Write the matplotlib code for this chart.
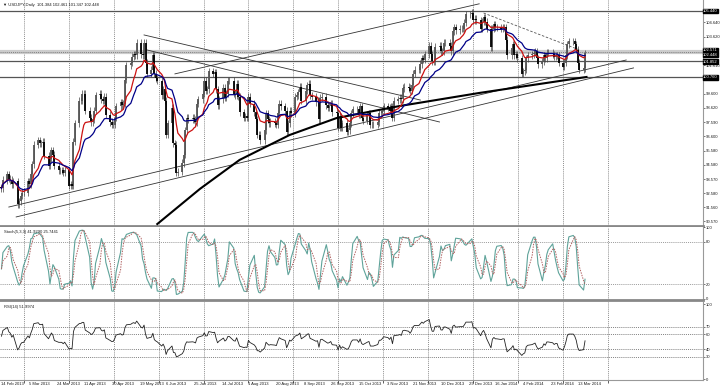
import matplotlib.pyplot as plt
import numpy as np
import pandas as pd

# daily closes, one row per week (Mon..Fri), first row is Thu/Fri 14-15 Feb 2013
closes = [
    92.9, 93.5,
    93.9, 93.6, 93.5, 93.2, 93.4,
    91.8, 92.0, 92.4, 92.6, 92.6,
    93.4, 93.2, 93.9, 94.6, 96.0,
    96.3, 96.1, 96.1, 96.2, 95.2,
    94.5, 95.0, 95.6, 95.3, 94.5,
    94.2, 94.2, 94.2, 94.0, 94.2,
    93.1, 93.2, 93.1, 96.2, 97.5,
    99.1, 99.1, 99.6, 99.6, 98.4,
    97.9, 97.6, 97.8, 98.4, 99.5,
    99.6, 99.2, 99.1, 99.4, 98.1,
    97.6, 97.4, 97.4, 97.9, 98.7,
    99.0, 98.8, 98.9, 100.6, 101.6,
    101.8, 102.2, 102.4, 102.3, 103.2,
    102.4, 102.3, 103.2, 101.8, 101.0,
    101.3, 102.3, 101.0, 100.7, 100.5,
    99.5, 99.9, 99.1, 96.7, 97.5,
    98.6, 96.1, 96.0, 94.0, 94.1,
    94.7, 95.3, 97.0, 97.9, 97.8,
    97.9, 97.8, 97.6, 98.9, 99.2,
    99.6, 100.5, 99.8, 99.9, 101.2,
    101.0, 101.1, 99.9, 98.8, 99.2,
    100.0, 99.3, 99.6, 100.5, 100.5,
    99.6, 99.5, 100.3, 99.4, 98.3,
    97.9, 98.0, 97.9, 99.4, 98.9,
    98.3, 97.8, 96.7, 96.7, 96.3,
    97.0, 98.2, 97.8, 97.5, 97.6,
    97.5, 97.4, 98.2, 98.9, 98.7,
    98.4, 96.9, 97.5, 98.4, 98.2,
    99.4, 99.5, 99.7, 100.1, 99.1,
    99.8, 100.2, 100.3, 99.5, 99.4,
    99.0, 99.1, 97.8, 99.3, 99.4,
    98.8, 98.6, 98.7, 98.9, 98.3,
    98.2, 97.2, 98.0, 97.2, 97.5,
    96.9, 97.0, 97.5, 98.2, 98.5,
    98.5, 98.1, 98.7, 97.9, 97.7,
    98.1, 98.2, 97.4, 97.4, 97.4,
    97.6, 98.2, 98.2, 98.4, 98.7,
    98.6, 98.4, 98.7, 97.9, 99.1,
    99.2, 99.3, 99.2, 100.0, 100.1,
    100.0, 99.8, 100.2, 101.0, 101.3,
    101.3, 101.7, 102.1, 102.0, 102.4,
    103.0, 102.4, 101.9, 101.9, 102.9,
    103.0, 102.6, 102.6, 103.2, 103.2,
    103.0, 102.6, 104.0, 104.3, 104.1,
    104.2, 104.2, 104.2, 104.6, 105.2,
    105.2, 105.3, 104.8, 104.9, 104.8,
    104.2, 104.7, 105.0, 104.7, 104.2,
    102.9, 104.2, 104.5, 104.3, 104.3,
    104.2, 104.3, 104.3, 103.4, 102.3,
    102.8, 103.1, 102.3, 102.4, 102.1,
    101.0, 101.2, 101.3, 102.1, 102.3,
    102.4, 102.5, 102.6, 102.1, 101.7,
    101.9, 102.3, 102.1, 102.5, 102.5,
    102.4, 102.2, 102.3, 102.3, 101.8,
    101.5, 101.8, 102.3, 103.1, 103.3,
    103.3, 103.1, 102.7, 101.8, 101.3,
    101.384, 102.448,
]
first_open = 93.0
rsi_seed_up, rsi_seed_dn = 0.13, 0.09

# 200-day average
ma200_dates = ['2013-05-31', '2013-06-29', '2013-07-26', '2013-08-29', '2013-09-30',
               '2013-11-12', '2014-01-05', '2014-03-19']
ma200_vals = [90.39, 92.87, 94.92, 96.68, 97.88, 98.73, 99.65, 100.78]

# hand drawn lines: (date, price) -> (date, price)
trend_lines = [
    (('2013-06-12', 101.0), ('2014-01-05', 105.95)),
    (('2013-02-19', 91.59), ('2014-04-15', 101.98)),
    (('2013-02-24', 90.89), ('2014-04-20', 101.42)),
    (('2013-05-22', 103.75), ('2013-11-26', 99.15)),
    (('2013-05-24', 102.69), ('2013-12-09', 97.6)),
]
dashed_lines = [
    (('2014-01-08', 105.3), ('2014-03-14', 102.7)),
]
hlines = [105.44, 101.90, 100.76]
grey_level = 102.58

price_ticks = [90.570, 91.560, 92.580, 93.570, 94.580, 95.580, 96.600, 97.590,
               98.620, 99.600, 101.610, 103.620, 104.640]
price_boxes = [105.440, 102.571, 102.448, 101.852, 100.760]

date_labels = ['14 Feb 2013', '5 Mar 2013', '24 Mar 2013', '11 Apr 2013', '30 Apr 2013',
               '19 May 2013', '6 Jun 2013', '25 Jun 2013', '14 Jul 2013', '1 Aug 2013',
               '20 Aug 2013', '8 Sep 2013', '26 Sep 2013', '15 Oct 2013', '3 Nov 2013',
               '21 Nov 2013', '10 Dec 2013', '29 Dec 2013', '16 Jan 2014', '4 Feb 2014',
               '23 Feb 2014', '13 Mar 2014']

title = 'USDJPY,Daily  101.384 102.461 101.347 102.448'
stoch_title = 'Stoch(5,3,3) 41.9290 25.7441'
rsi_title = 'RSI(14) 51.9974'

plt.rcParams['font.family'] = ['Liberation Sans', 'DejaVu Sans']

start = pd.Timestamp('2013-02-14')
dates = pd.bdate_range('2013-02-14', '2014-03-18')


def day(d):
    return (pd.Timestamp(d) - start).days


x = np.array([(d - start).days for d in dates])
c = np.array(closes)
o = np.r_[first_open, c[:-1]]
hi = np.maximum(o, c) + 0.25
lo = np.minimum(o, c) - 0.25

s = pd.Series(c)
red = s.ewm(span=10).mean()
blue = s.ewm(span=21).mean()

# stochastic 5,3,3
hh = pd.Series(hi).rolling(5, min_periods=1).max()
ll = pd.Series(lo).rolling(5, min_periods=1).min()
num = (s - ll).rolling(3, min_periods=1).sum()
den = (hh - ll).rolling(3, min_periods=1).sum()
k = 100 * num / den
d_line = k.rolling(3, min_periods=1).mean()

# rsi 14, wilder smoothing
rsi = []
au, ad = rsi_seed_up, rsi_seed_dn
for ch in c - o:
    au = (au * 13 + max(ch, 0)) / 14
    ad = (ad * 13 + max(-ch, 0)) / 14
    rsi.append(100 - 100 / (1 + au / ad))

W, H = 720, 388
fig = plt.figure(figsize=(7.2, 3.88), dpi=100)
R = 703 / W
ax = fig.add_axes([0, 1 - 226 / H, R, 226 / H])
ax2 = fig.add_axes([0, 1 - 300 / H, R, 73 / H])
ax3 = fig.add_axes([0, 1 - 380 / H, R, 78 / H])

px_day = 1.473
xmax = 703 / px_day
grid_days = np.arange(22.5, 640, 45) / px_day
fs = 3.0
tc = '#1a1a1a'

for a in (ax, ax2, ax3):
    a.set_xlim(-1, xmax)
    a.set_xticks([])
    a.yaxis.tick_right()
    a.tick_params(axis='y', length=1.5, width=0.5, pad=0.8, labelsize=fs,
                  colors='#444444', labelcolor=tc)
    for sp in a.spines.values():
        sp.set_color('#999999')
        sp.set_linewidth(0.8)
    a.spines['left'].set_visible(False)
    a.spines['top'].set_visible(False)
    for g in grid_days:
        a.axvline(g, color='#666666', lw=0.5, ls=(0, (1.5, 1.5)), zorder=0)

# main panel
ax.set_ylim(90.25, 106.22)
ax.set_yticks(price_ticks, ['%.3f' % v for v in price_ticks])
ax.spines['bottom'].set_linewidth(2)
ax.spines['bottom'].set_color('#888888')
for v in hlines:
    ax.axhline(v, color='#555555', lw=0.9, zorder=1)
ax.axhline(grey_level, color='#cccccc', lw=3, zorder=1)
ax.axhline(grey_level, color='#666666', lw=0.5, ls=(0, (1.5, 1.5)), zorder=1)

bull = c >= o
ax.vlines(x, lo, hi, color='#444444', lw=0.5, zorder=3)
ax.vlines(x[bull], o[bull], c[bull], color='#555555', lw=1.3, zorder=3)
ax.vlines(x[~bull], c[~bull], o[~bull], color='#000000', lw=1.3, zorder=3)

for (d1, p1), (d2, p2) in trend_lines:
    ax.plot([day(d1), day(d2)], [p1, p2], color='#333333', lw=0.6, zorder=2)
for (d1, p1), (d2, p2) in dashed_lines:
    ax.plot([day(d1), day(d2)], [p1, p2], color='#555555', lw=0.6, ls=(0, (3, 2)), zorder=2)

ax.plot([day(d) for d in ma200_dates], ma200_vals, color='black', lw=1.5, zorder=4)
ax.plot(x, red, color='#cc1111', lw=0.9, zorder=5)
ax.plot(x, blue, color='#000088', lw=0.9, zorder=5)

# price boxes on the right scale; the two close ones are stacked
yt = ax.get_yaxis_transform()
pair_mid = (price_boxes[1] + price_boxes[2]) / 2
for i, v in enumerate(price_boxes):
    ypos, va = v, 'center'
    if i == 1:
        ypos, va = pair_mid + 0.03, 'bottom'
    elif i == 2:
        ypos, va = pair_mid - 0.03, 'top'
    ax.text(1.0, ypos, '%.3f' % v, transform=yt, fontsize=fs, color='white',
            va=va, ha='left', clip_on=False, zorder=10,
            bbox=dict(boxstyle='square,pad=0.1', fc='black', ec='black'))
ax.text(0.004, 0.978, '\u25bc ' + title, transform=ax.transAxes, fontsize=fs,
        color=tc, va='center', ha='left')

# stochastic
ax2.set_ylim(-2.1, 100.7)
ax2.set_yticks([100, 80, 20, 0])
ax2.spines['bottom'].set_linewidth(2)
ax2.spines['bottom'].set_color('#888888')
for v in (80, 20):
    ax2.axhline(v, color='#777777', lw=0.5, ls=(0, (1.5, 1.5)))
ax2.plot(x, k, color='#5fa39a', lw=0.8)
ax2.plot(x, d_line, color='#b06060', lw=0.7, ls=(0, (1.5, 1.2)))
ax2.text(0.006, 0.93, stoch_title, transform=ax2.transAxes, fontsize=fs,
         color=tc, va='center', ha='left')

# rsi
ax3.set_ylim(-1.3, 102.7)
ax3.set_yticks([100, 70, 60, 40, 30, 0])
for v in (70, 60, 40, 30):
    ax3.axhline(v, color='#555555', lw=0.5, ls=(0, (1.5, 1.5)))
ax3.plot(x, rsi, color='#222222', lw=0.6)
ax3.text(0.006, 0.94, rsi_title, transform=ax3.transAxes, fontsize=fs,
         color=tc, va='center', ha='left')

ax3.set_xticks(grid_days, [''] * len(grid_days))
ax3.tick_params(axis='x', length=2, width=0.6, colors='#444444')
xt = ax3.get_xaxis_transform()
for lab in date_labels:
    ax3.text(day(pd.Timestamp(lab)), -0.055, lab, transform=xt, fontsize=fs,
             color=tc, va='center', ha='left', clip_on=False)

fig.savefig('out.png', dpi=100)
